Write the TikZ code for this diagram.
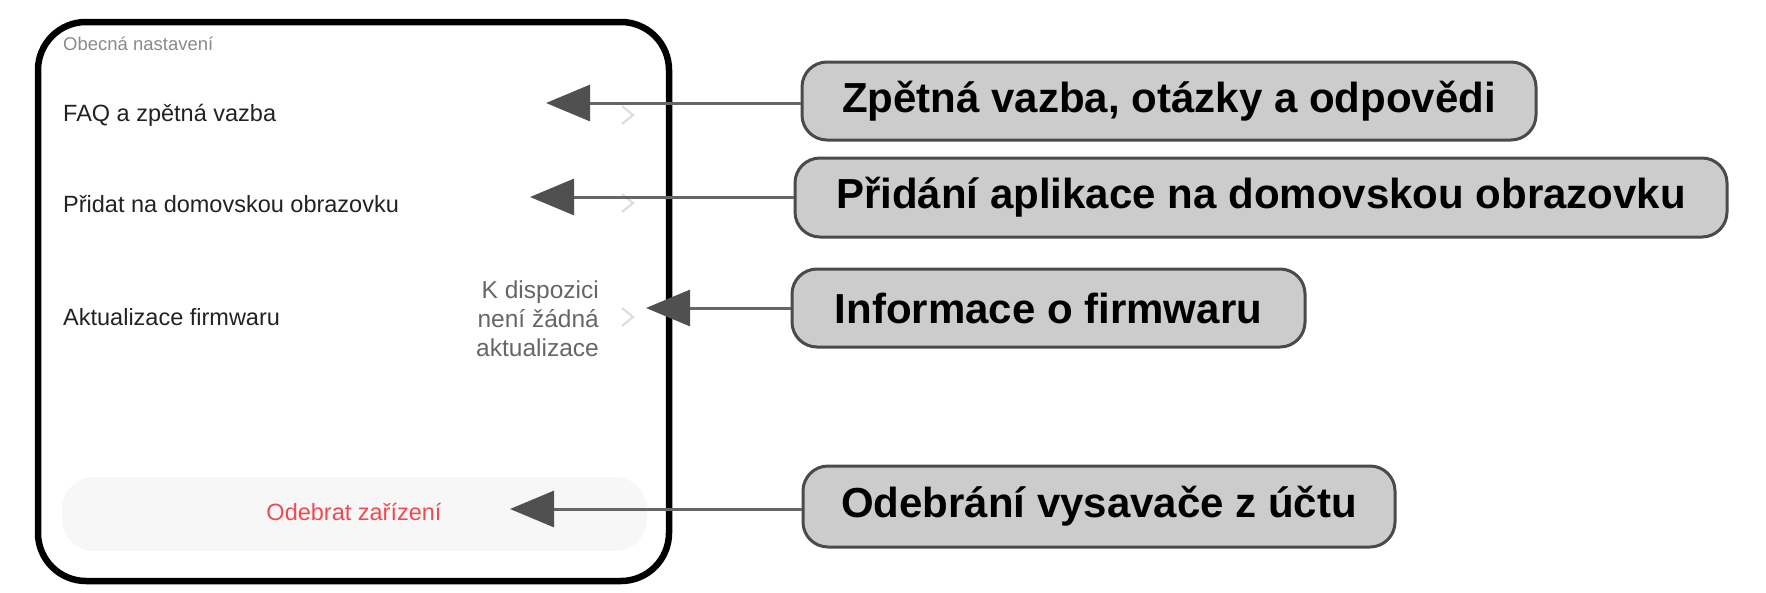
\documentclass[tikz,border=0pt]{standalone}
\usepackage{fontspec}
\setmainfont{Liberation Sans}
\usetikzlibrary{arrows.meta}
\definecolor{boxfill}{HTML}{CCCCCC}
\definecolor{boxline}{HTML}{4A4A4A}
\definecolor{connline}{HTML}{666666}
\definecolor{tipcol}{HTML}{505050}
\definecolor{uitext}{HTML}{222222}
\definecolor{uigray}{HTML}{8A8A8A}
\definecolor{uisub}{HTML}{666666}
\definecolor{chevcol}{HTML}{DCDCDC}
\definecolor{btnfill}{HTML}{F7F7F7}
\definecolor{redtext}{HTML}{F04A50}
\begin{document}
\begin{tikzpicture}[x=1pt,y=-1pt,
  callout/.style={draw=boxline, line width=3pt, fill=boxfill, rounded corners=25pt,
    inner sep=0pt, align=center, font=\fontsize{42}{50}\selectfont\bfseries, text=black},
  conn/.style={draw=connline, line width=3pt,
    -{Triangle[length=44pt,width=36pt,color=tipcol]}},
  uilabel/.style={anchor=base west, inner sep=0pt, text=uitext, font=\fontsize{23.5}{28}\selectfont},
  chev/.style={draw=chevcol, line width=2pt, line join=miter}
]
\useasboundingbox (0,0) rectangle (1766,592);

% phone frame
\draw[line width=6.5pt, rounded corners=48pt] (38,22) rectangle (669,581);

% header
\node[anchor=base west, inner sep=0pt, text=uigray, font=\fontsize{18.5}{22}\selectfont] (hdr) at (63,50) {Obecná nastavení};

% rows
\node[uilabel] (faq) at (63,121) {FAQ a zpětná vazba};
\node[uilabel] (home) at (63,212) {Přidat na domovskou obrazovku};
\node[uilabel] (fw) at (63,325) {Aktualizace firmwaru};
\node[anchor=east, inner sep=0pt, align=right, text=uisub, font=\fontsize{24.5}{29}\selectfont] (fwstat) at (599,319) {K dispozici\\není žádná\\aktualizace};

% chevrons
\draw[chev] (622,106) -- (633,115) -- (622,124);
\draw[chev] (622,194) -- (633,203) -- (622,212);
\draw[chev] (622,308) -- (633,317) -- (622,326);

% remove button
\draw[fill=btnfill, draw=none, rounded corners=32pt] (62,477) rectangle (647,551);
\node[anchor=base, inner sep=0pt, text=redtext, font=\fontsize{23.5}{28}\selectfont] (remove) at (354,520) {Odebrat zařízení};

% callouts
\node[callout, minimum width=734pt, minimum height=78pt] (b1) at (1169,101) {Zpětná vazba, otázky a odpovědi};
\node[callout, minimum width=932pt, minimum height=79pt] (b2) at (1261,197.5) {Přidání aplikace na domovskou obrazovku};
\node[callout, minimum width=513pt, minimum height=78pt] (b3) at (1048.5,308) {Informace o firmwaru};
\node[callout, minimum width=592pt, minimum height=81pt] (b4) at (1099,506.5) {Odebrání vysavače z účtu};

% arrow tips
\coordinate (t1) at (546,103);
\coordinate (t2) at (530,197);
\coordinate (t3) at (646,308);
\coordinate (t4) at (510,509);

\draw[conn] (t1 -| b1.west) -- (t1);
\draw[conn] (t2 -| b2.west) -- (t2);
\draw[conn] (t3 -| b3.west) -- (t3);
\draw[conn] (t4 -| b4.west) -- (t4);
\end{tikzpicture}
\end{document}
